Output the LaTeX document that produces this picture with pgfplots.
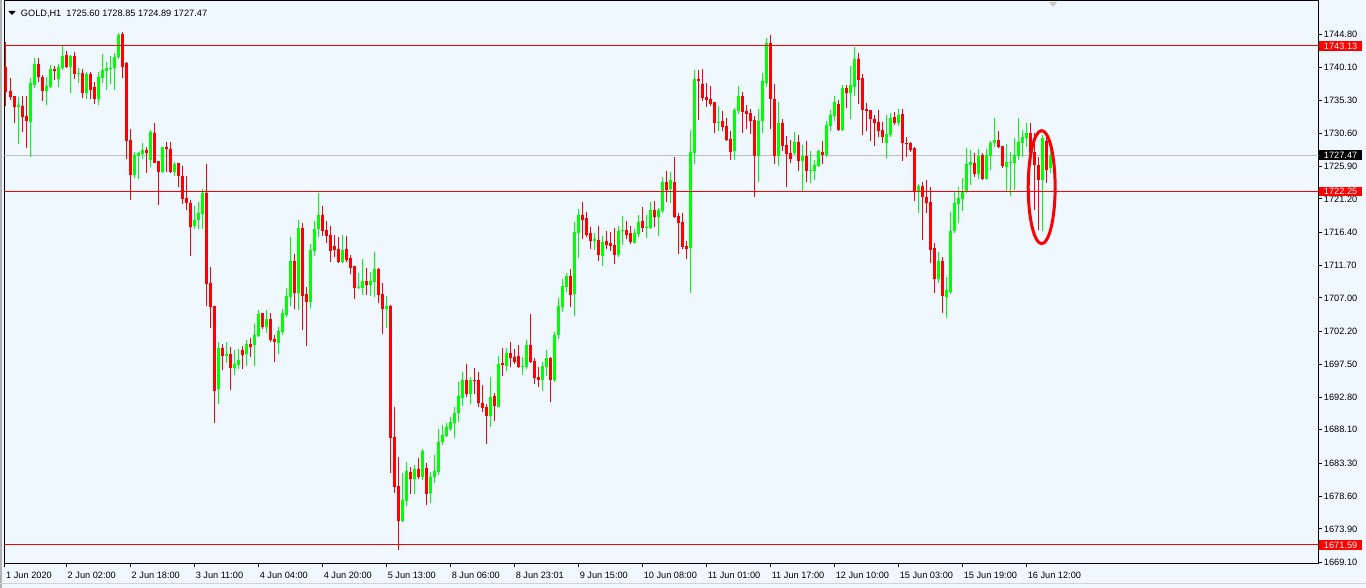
\documentclass[border=0pt]{standalone}
\usepackage{fontspec}
\setmainfont{Liberation Sans}
\usepackage{pgfplots}
\usepackage{pgfplotstable}
\pgfplotsset{compat=1.18}

\definecolor{bgblue}{HTML}{F0F8FF}
\definecolor{bull}{HTML}{00FF00}
\definecolor{bear}{HTML}{FF0000}
\definecolor{bidgray}{HTML}{C0C0C0}
\newcommand\mtfont{\fontsize{6.9}{8}\selectfont}

% GOLD H1 candles: bar index, open, high, low, close
\pgfplotstableread{
i o h l c
0 1740.17 1743.75 1734.53 1736.58
1 1736.73 1738.50 1735.39 1735.77
2 1735.96 1735.96 1732.14 1734.43
3 1734.43 1735.87 1729.08 1734.60
4 1734.53 1735.96 1730.85 1733.00
5 1733.09 1735.96 1728.55 1732.43
6 1732.28 1738.50 1727.17 1737.78
7 1737.54 1741.36 1737.06 1740.55
8 1740.55 1741.36 1738.02 1738.64
9 1738.64 1738.97 1735.29 1736.73
10 1736.73 1738.73 1734.67 1737.40
11 1737.30 1740.41 1737.06 1739.83
12 1739.83 1740.26 1738.25 1739.59
13 1738.40 1740.55 1737.30 1740.07
14 1739.93 1743.27 1739.69 1741.70
15 1741.84 1742.41 1739.93 1740.17
16 1740.17 1741.84 1736.34 1741.70
17 1741.70 1742.32 1738.40 1739.12
18 1739.12 1739.93 1737.78 1739.31
19 1739.31 1739.79 1735.63 1736.44
20 1736.44 1739.45 1735.48 1739.12
21 1739.12 1739.45 1735.48 1736.82
22 1737.20 1738.02 1734.77 1735.48
23 1735.48 1739.45 1734.67 1738.64
24 1738.54 1741.98 1737.87 1739.69
25 1739.59 1740.88 1736.82 1740.02
26 1739.83 1741.70 1737.68 1740.02
27 1739.93 1742.08 1736.82 1741.50
28 1741.50 1744.95 1741.22 1744.71
29 1744.85 1745.14 1738.59 1740.17
30 1740.74 1740.88 1726.88 1729.56
31 1729.65 1731.18 1721.05 1724.68
32 1724.68 1727.98 1724.16 1727.50
33 1727.41 1727.98 1724.06 1727.84
34 1727.65 1729.27 1726.88 1728.22
35 1728.22 1728.70 1724.87 1727.84
36 1726.79 1731.09 1725.82 1730.75
37 1730.70 1732.04 1726.31 1726.40
38 1726.64 1726.64 1720.38 1725.07
39 1725.07 1728.70 1724.97 1728.70
40 1728.70 1729.41 1725.11 1728.31
41 1728.31 1729.41 1724.97 1725.07
42 1725.07 1726.55 1724.49 1726.21
43 1726.31 1726.31 1722.87 1724.49
44 1724.49 1725.93 1720.48 1721.19
45 1721.29 1724.49 1719.62 1720.58
46 1720.58 1721.05 1713.02 1717.23
47 1717.32 1720.19 1716.90 1718.18
48 1718.18 1720.81 1716.90 1719.14
49 1719.04 1722.58 1716.90 1722.10
50 1722.10 1726.21 1705.86 1709.06
51 1709.15 1711.49 1702.70 1705.76
52 1705.86 1705.86 1689.13 1693.72
53 1693.91 1700.74 1691.81 1699.83
54 1699.83 1700.41 1696.68 1698.69
55 1698.69 1700.65 1697.64 1698.97
56 1698.97 1699.93 1693.86 1697.01
57 1697.01 1699.55 1695.96 1697.49
58 1697.40 1699.64 1696.87 1698.11
59 1699.55 1700.12 1696.87 1698.88
60 1698.97 1700.98 1697.25 1700.41
61 1700.41 1701.22 1698.59 1700.03
62 1700.31 1703.27 1697.30 1701.70
63 1701.60 1705.28 1701.46 1704.71
64 1704.80 1704.90 1702.56 1702.89
65 1702.89 1705.28 1702.03 1703.94
66 1703.94 1704.90 1700.74 1700.98
67 1701.12 1701.70 1697.87 1700.69
68 1700.60 1702.89 1698.97 1702.27
69 1702.18 1705.43 1701.70 1704.80
70 1704.57 1708.39 1704.33 1707.29
71 1707.19 1715.80 1705.86 1712.31
72 1712.31 1713.31 1705.38 1707.77
73 1707.77 1718.19 1705.28 1717.04
74 1717.04 1717.71 1702.41 1707.34
75 1707.58 1708.63 1700.17 1706.48
76 1706.48 1714.74 1705.62 1713.88
77 1713.78 1718.09 1713.07 1716.89
78 1716.89 1722.10 1715.80 1718.90
79 1718.90 1720.19 1715.94 1716.66
80 1716.75 1718.04 1714.84 1715.94
81 1716.03 1717.32 1712.21 1713.74
82 1714.46 1716.03 1712.93 1713.88
83 1714.03 1715.70 1711.97 1712.21
84 1712.21 1716.03 1711.97 1713.88
85 1714.03 1715.89 1712.21 1712.45
86 1712.69 1713.17 1710.44 1711.35
87 1711.59 1711.59 1706.86 1708.48
88 1708.43 1710.63 1708.29 1708.63
89 1708.48 1712.59 1707.43 1709.44
90 1709.44 1711.35 1707.43 1708.87
91 1708.87 1710.68 1707.34 1709.44
92 1709.34 1713.65 1707.19 1711.16
93 1711.16 1711.26 1706.33 1707.43
94 1707.58 1709.11 1701.84 1705.47
95 1705.47 1707.29 1702.75 1705.86
96 1705.86 1706.00 1681.96 1686.98
97 1687.03 1691.42 1679.09 1679.95
98 1680.05 1684.25 1670.90 1675.08
99 1675.08 1681.96 1674.94 1678.04
100 1677.94 1683.54 1677.23 1682.20
101 1682.01 1682.73 1678.90 1681.05
102 1681.05 1683.06 1678.90 1682.49
103 1682.49 1684.02 1681.00 1681.39
104 1681.39 1685.35 1680.91 1685.07
105 1682.68 1683.30 1677.32 1678.90
106 1679.09 1682.10 1677.66 1681.39
107 1681.39 1684.49 1680.53 1682.20
108 1682.10 1688.17 1681.63 1686.31
109 1686.31 1688.79 1685.90 1687.36
110 1687.22 1689.03 1687.12 1688.46
111 1688.17 1689.99 1687.98 1689.18
112 1689.03 1691.42 1686.88 1690.56
113 1690.46 1695.01 1689.27 1692.95
114 1692.71 1696.39 1691.52 1695.25
115 1695.25 1697.54 1692.86 1693.24
116 1693.24 1695.72 1691.81 1695.25
117 1695.25 1697.01 1693.24 1695.10
118 1695.25 1696.39 1691.42 1691.90
119 1692.00 1694.53 1690.71 1691.18
120 1691.33 1691.81 1686.00 1690.08
121 1690.08 1695.72 1688.56 1692.76
122 1692.95 1693.33 1689.42 1691.52
123 1691.42 1698.69 1691.30 1697.54
124 1697.64 1699.79 1695.82 1697.44
125 1697.25 1699.88 1696.58 1699.16
126 1699.16 1700.69 1697.16 1698.35
127 1698.59 1699.69 1697.54 1697.83
128 1698.69 1700.26 1696.92 1697.06
129 1697.16 1698.59 1695.96 1697.30
130 1697.16 1700.98 1696.82 1700.26
131 1700.26 1704.71 1697.64 1697.78
132 1697.97 1698.35 1694.67 1695.53
133 1695.72 1697.16 1694.29 1695.25
134 1695.25 1697.87 1693.72 1697.25
135 1697.16 1699.55 1695.82 1698.40
136 1698.40 1698.59 1692.14 1695.25
137 1695.25 1702.18 1695.01 1701.70
138 1701.70 1707.05 1701.12 1705.86
139 1705.76 1709.68 1705.04 1708.72
140 1708.63 1710.54 1707.91 1710.16
141 1710.16 1711.11 1705.76 1707.43
142 1707.58 1717.90 1704.42 1716.46
143 1716.37 1719.71 1712.78 1718.90
144 1718.90 1720.72 1715.46 1718.19
145 1718.47 1719.38 1715.80 1716.03
146 1716.37 1717.23 1713.98 1715.22
147 1715.22 1716.37 1713.88 1715.46
148 1715.32 1717.32 1712.35 1713.17
149 1713.02 1715.89 1711.59 1715.08
150 1715.17 1716.61 1713.98 1714.60
151 1714.93 1716.51 1713.79 1714.46
152 1714.60 1716.99 1711.88 1713.17
153 1713.17 1717.32 1712.93 1716.66
154 1716.56 1718.76 1714.60 1716.75
155 1716.75 1718.09 1715.41 1716.03
156 1716.27 1717.32 1714.74 1715.03
157 1714.93 1716.84 1714.83 1716.37
158 1716.17 1718.90 1715.79 1717.90
159 1718.04 1720.09 1716.51 1717.08
160 1716.99 1718.90 1715.55 1717.22
161 1716.99 1720.76 1716.84 1719.61
162 1719.61 1720.90 1717.13 1718.66
163 1718.66 1719.85 1715.89 1719.61
164 1719.47 1724.39 1719.23 1723.63
165 1723.63 1725.25 1720.71 1722.48
166 1722.58 1725.11 1720.57 1723.92
167 1723.63 1727.26 1718.42 1718.66
168 1718.76 1719.23 1713.31 1717.80
169 1717.90 1719.14 1714.02 1714.36
170 1714.46 1715.22 1712.59 1714.02
171 1714.22 1731.09 1707.67 1727.93
172 1727.83 1739.69 1726.21 1738.35
173 1738.35 1739.69 1732.52 1738.16
174 1737.68 1739.83 1735.29 1735.62
175 1735.86 1737.87 1734.33 1735.39
176 1735.53 1737.44 1734.52 1734.81
177 1735.10 1735.10 1730.70 1732.13
178 1732.13 1734.52 1730.99 1732.28
179 1732.37 1733.81 1730.99 1731.47
180 1731.66 1732.76 1729.56 1729.65
181 1729.80 1730.94 1726.78 1727.98
182 1728.07 1734.19 1726.78 1733.95
183 1733.81 1737.39 1733.33 1735.96
184 1735.96 1736.53 1730.61 1733.71
185 1733.81 1734.67 1731.18 1733.38
186 1733.47 1734.09 1730.51 1732.37
187 1732.52 1733.09 1721.52 1727.40
188 1727.40 1734.09 1723.68 1732.42
189 1732.42 1739.30 1730.61 1738.11
190 1737.87 1744.23 1737.30 1743.51
191 1743.51 1744.70 1731.23 1735.53
192 1735.53 1737.68 1726.21 1727.40
193 1727.40 1735.15 1725.92 1732.04
194 1732.04 1732.61 1728.12 1728.84
195 1728.94 1730.22 1722.96 1727.60
196 1727.74 1729.65 1726.30 1726.93
197 1727.74 1730.80 1727.50 1729.31
198 1729.31 1730.37 1725.25 1726.69
199 1726.69 1728.94 1722.24 1727.36
200 1727.36 1729.51 1723.68 1725.25
201 1725.21 1728.07 1723.44 1725.35
202 1725.21 1726.78 1723.92 1726.07
203 1725.92 1728.22 1725.83 1728.07
204 1727.93 1729.51 1726.16 1727.50
205 1727.50 1732.37 1727.26 1731.80
206 1731.71 1733.95 1730.99 1733.23
207 1733.14 1735.96 1732.42 1735.10
208 1734.81 1735.39 1731.00 1731.09
209 1731.09 1737.54 1731.00 1737.11
210 1737.11 1737.54 1734.19 1736.34
211 1736.44 1740.26 1732.61 1737.54
212 1737.30 1743.03 1735.96 1741.26
213 1741.26 1742.17 1734.81 1738.25
214 1738.54 1739.11 1730.32 1733.95
215 1734.09 1734.91 1730.99 1733.81
216 1733.95 1733.95 1729.56 1732.61
217 1732.71 1733.23 1728.84 1732.13
218 1732.23 1733.95 1730.13 1730.99
219 1731.09 1732.28 1729.17 1730.13
220 1729.27 1733.23 1727.12 1730.51
221 1730.37 1733.47 1730.13 1732.80
222 1732.95 1733.71 1731.80 1732.13
223 1732.13 1734.05 1731.66 1733.23
224 1733.38 1734.14 1726.69 1729.27
225 1729.17 1730.13 1727.26 1729.08
226 1729.17 1729.41 1727.98 1728.22
227 1728.50 1728.70 1720.95 1722.19
228 1722.19 1723.34 1719.14 1723.05
229 1723.05 1723.68 1715.31 1721.52
230 1721.52 1723.92 1719.23 1720.57
231 1720.76 1722.86 1711.97 1713.88
232 1714.12 1714.83 1707.76 1709.77
233 1709.77 1713.59 1709.10 1712.30
234 1712.30 1712.83 1704.80 1707.33
235 1707.19 1709.96 1704.08 1708.15
236 1707.86 1719.33 1707.57 1716.61
237 1716.61 1722.24 1716.27 1720.57
238 1720.48 1722.96 1717.80 1721.29
239 1721.15 1724.15 1719.52 1722.24
240 1722.19 1728.46 1722.10 1726.21
241 1726.07 1728.22 1723.20 1726.50
242 1726.40 1727.83 1724.39 1724.78
243 1724.78 1728.31 1724.06 1727.36
244 1727.45 1727.74 1723.92 1724.06
245 1724.06 1728.31 1724.01 1727.55
246 1727.40 1729.51 1725.35 1729.17
247 1729.17 1732.76 1728.70 1729.65
248 1729.65 1730.94 1728.46 1728.70
249 1728.79 1728.79 1725.69 1725.92
250 1725.83 1729.03 1722.39 1726.50
251 1726.40 1727.98 1721.62 1726.50
252 1726.40 1729.89 1722.48 1727.50
253 1727.40 1732.76 1726.79 1729.36
254 1729.27 1731.09 1727.17 1730.03
255 1729.94 1732.04 1728.60 1730.61
256 1730.61 1732.13 1726.79 1727.83
257 1727.93 1730.61 1719.61 1726.07
258 1726.07 1727.26 1716.75 1723.92
259 1723.92 1730.37 1716.65 1729.89
260 1729.51 1730.22 1723.53 1725.35
261 1725.60 1728.85 1724.89 1727.47
}\gold

\begin{document}
\begin{tikzpicture}
% window background and border
\fill[bgblue] (-3.375pt,-18pt) rectangle (1021.125pt,423pt);
\draw[gray!60, line width=1.2pt] (-2.8pt,-18pt) -- (-2.8pt,423pt);
\draw[gray!35, line width=0.75pt] (-3.375pt,-14.5pt) -- (1021.125pt,-14.5pt);

\begin{axis}[
    at={(0,0)}, anchor=south west,
    scale only axis,
    width=985.5pt, height=422.25pt,
    xmin=-0.375, xmax=328.1,
    ymin=1668.86, ymax=1749.58,
    axis background/.style={fill=bgblue},
    axis line style={black, line width=0.75pt},
    xtick pos=lower, ytick pos=right,
    tick align=outside,
    major tick length=2.6pt,
    tick style={black, line width=0.75pt},
    ytick={1669.1,1673.9,1678.6,1683.3,1688.1,1692.8,1697.5,1702.2,1707.0,1711.7,1716.4,1721.2,1725.9,1730.6,1735.3,1740.1,1744.8},
    yticklabels={1669.10,1673.90,1678.60,1683.30,1688.10,1692.80,1697.50,1702.20,1707.00,1711.70,1716.40,1721.20,1725.90,1730.60,1735.30,1740.10,1744.80},
    xtick={-0.375,15,31,47,63,79,95,111,127,143,159,175,191,207,223,239,255},
    xticklabels={1 Jun 2020,2 Jun 02:00,2 Jun 18:00,3 Jun 11:00,4 Jun 04:00,4 Jun 20:00,5 Jun 13:00,8 Jun 06:00,8 Jun 23:01,9 Jun 15:00,10 Jun 08:00,11 Jun 01:00,11 Jun 17:00,12 Jun 10:00,15 Jun 03:00,15 Jun 19:00,16 Jun 12:00},
    ticklabel style={font=\mtfont, text=black, inner sep=0pt},
    xticklabel style={anchor=north west, xshift=1.1pt, yshift=-3.3pt},
    yticklabel style={anchor=west, xshift=1.3pt},
]
% bid line
\addplot[bidgray, line width=0.75pt] coordinates {(-1,1727.47) (330,1727.47)};

% bullish candles
\addplot[bull, line width=0.75pt,
    quiver={u=0, v=\thisrow{h}-\thisrow{l}},
    restrict expr to domain={\thisrow{c}-\thisrow{o}}{0:1000}]
    table[x=i, y=l] {\gold};
\addplot[bull, line width=2.25pt,
    quiver={u=0, v=\thisrow{c}-\thisrow{o}},
    restrict expr to domain={\thisrow{c}-\thisrow{o}}{0:1000}]
    table[x=i, y=o] {\gold};

% bearish candles
\addplot[bear, line width=0.75pt,
    quiver={u=0, v=\thisrow{h}-\thisrow{l}},
    restrict expr to domain={\thisrow{c}-\thisrow{o}}{-1000:-0.001}]
    table[x=i, y=l] {\gold};
\addplot[bear, line width=2.25pt,
    quiver={u=0, v=\thisrow{c}-\thisrow{o}},
    restrict expr to domain={\thisrow{c}-\thisrow{o}}{-1000:-0.001}]
    table[x=i, y=o] {\gold};

% horizontal levels
\addplot[bear, line width=0.75pt] coordinates {(-1,1743.13) (330,1743.13)};
\addplot[bear, line width=0.75pt] coordinates {(-1,1722.25) (330,1722.25)};
\addplot[bear, line width=0.75pt] coordinates {(-1,1671.59) (330,1671.59)};

\coordinate (lv1) at (axis cs:328.1,1743.13);
\coordinate (lv2) at (axis cs:328.1,1727.47);
\coordinate (lv3) at (axis cs:328.1,1722.25);
\coordinate (lv4) at (axis cs:328.1,1671.59);
\coordinate (ell) at (axis cs:258.9,1722.89);
\end{axis}

% price labels on the right
\tikzset{pricebox/.style={anchor=west, text=white, font=\mtfont, inner xsep=3.5pt, inner ysep=0pt, minimum height=7.1pt, xshift=0.4pt}}
\node[pricebox, fill=bear] at (lv1) {1743.13};
\node[pricebox, fill=black] at (lv2) {1727.47};
\node[pricebox, fill=bear] at (lv3) {1722.25};
\node[pricebox, fill=bear] at (lv4) {1671.59};

% hand-drawn circle around the last bars
\draw[bear, line width=2.25pt] (ell) ellipse [x radius=10.1pt, y radius=42.4pt];

% chart title and shift marker
\fill[black] (2.85pt,414.75pt) -- (8.4pt,414.75pt) -- (5.6pt,411.75pt) -- cycle;
\node[anchor=base west, inner sep=0pt, font=\mtfont] at (12.15pt,410.8pt) {GOLD,H1\ \ 1725.60 1728.85 1724.89 1727.47};
\fill[gray!45] (783.4pt,421.5pt) -- (789.4pt,421.5pt) -- (786.4pt,417.75pt) -- cycle;

\pgfresetboundingbox
\path[use as bounding box] (-3.375pt,-18pt) rectangle (1021.125pt,423pt);
\end{tikzpicture}
\end{document}
